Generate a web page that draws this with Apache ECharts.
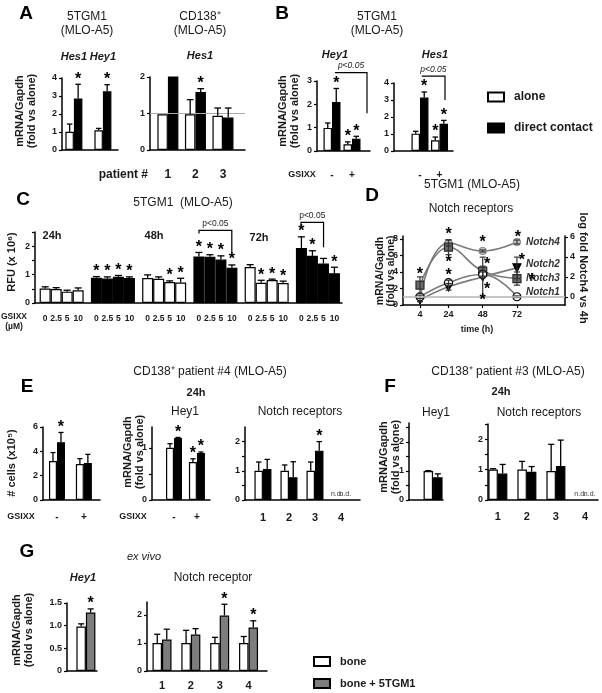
<!DOCTYPE html>
<html>
<head>
<meta charset="utf-8">
<script src="https://cdn.jsdelivr.net/npm/echarts@6.0.0/dist/echarts.min.js"></script>
<style>
html,body{margin:0;padding:0;background:#fff;}
#chart{width:602px;height:693px;}
</style>
</head>
<body>
<div id="chart"></div>
<script>
// ======================= DATA =======================
// A — 5TGM1 (MLO-A5)
const aGenes = ['Hes1', 'Hey1'];
const aAlone = [1.01, 1.10];
const aAloneSd = [0.43, 0.10];
const aContact = [2.86, 3.26];
const aContactSd = [0.79, 0.37];
const aContactSig = [1, 1];
// A — CD138+ (MLO-A5), Hes1
const a2Patients = ['1', '2', '3'];
const a2Alone = [0.98, 0.98, 0.94];
const a2AloneSd = [0, 0.40, 0.21];
const a2Contact = [2.05, 1.59, 0.89];
const a2ContactSd = [0, 0.09, 0.26];
const a2ContactSig = [0, 1, 0];
// B — 5TGM1 (MLO-A5) with GSIXX
const bGsixx = ['-', '+'];
const bHey1Alone = [0.99, 0.29];
const bHey1AloneSd = [0.21, 0.10];
const bHey1AloneSig = [0, 1];
const bHey1Contact = [2.10, 0.53];
const bHey1ContactSd = [0.58, 0.10];
const bHey1ContactSig = [1, 1];
const bHes1Alone = [1.02, 0.63];
const bHes1AloneSd = [0.14, 0.19];
const bHes1AloneSig = [0, 1];
const bHes1Contact = [3.14, 1.60];
const bHes1ContactSd = [0.33, 0.20];
const bHes1ContactSig = [1, 1];
// C — RFU (x10^6); columns = groups, one array per GSIXX dose
const cGroupCondition = ['alone', 'contact', 'alone', 'contact', 'alone', 'contact'];
const cTimes = ['24h', '48h', '72h'];
const cDoses = ['0', '2.5', '5', '10'];
const cDose0 = [0.51, 0.89, 0.88, 1.64, 1.27, 1.94];
const cDose25 = [0.49, 0.86, 0.85, 1.63, 0.71, 1.66];
const cDose5 = [0.40, 0.92, 0.74, 1.53, 0.81, 1.39];
const cDose10 = [0.45, 0.88, 0.72, 1.24, 0.70, 1.05];
const cSd0 = [0.06, 0.04, 0.11, 0.14, 0.08, 0.39];
const cSd25 = [0.05, 0.06, 0.07, 0.07, 0.09, 0.18];
const cSd5 = [0.05, 0.05, 0.04, 0.13, 0.03, 0.18];
const cSd10 = [0.08, 0.04, 0.15, 0.10, 0.07, 0.21];
const cSig0 = [0, 1, 0, 1, 0, 1];
const cSig25 = [0, 1, 0, 1, 1, 1];
const cSig5 = [0, 1, 1, 1, 1, 0];
const cSig10 = [0, 1, 1, 1, 1, 1];
// D — Notch receptors over time
const dTimes = [4, 24, 48, 72];
const dNotch1 = [1.0, 2.7, 3.7, 1.0];
const dNotch1Sd = [0.2, 0.3, 0.3, 0.1];
const dNotch2 = [0.6, 2.2, 3.4, 4.5];
const dNotch2Sd = [0.2, 0.4, 2.4, 1.3];
const dNotch3 = [2.4, 7.0, 4.1, 3.2];
const dNotch3Sd = [1.0, 0.9, 0.6, 0.8];
const dNotch4Log = [0, 5.4, 4.6, 5.5];
const dNotch4LogSd = [0, 0.3, 0.1, 0.2];
// E — CD138+ patient #4, 24h
const eGsixx = ['-', '+'];
const eCellsAlone = [3.2, 2.95];
const eCellsAloneSd = [0.7, 0.45];
const eCellsContact = [4.75, 3.05];
const eCellsContactSd = [0.8, 0.7];
const eCellsContactSig = [1, 0];
const eHey1Alone = [1.0, 0.73];
const eHey1AloneSd = [0.08, 0.06];
const eHey1AloneSig = [0, 1];
const eHey1Contact = [1.19, 0.90];
const eHey1ContactSd = [0.01, 0.02];
const eHey1ContactSig = [1, 1];
const notchIds = ['1', '2', '3', '4'];
const eNotchAlone = [1.0, 1.0, 1.0, null];
const eNotchAloneSd = [0.3, 0.2, 0.3, 0];
const eNotchContact = [1.06, 0.78, 1.69, null];
const eNotchContactSd = [0.33, 0.53, 0.31, 0];
const eNotchContactSig = [0, 0, 1, 0];
// F — CD138+ patient #3, 24h
const fHey1Alone = [1.0];
const fHey1AloneSd = [0.01];
const fHey1Contact = [0.78];
const fHey1ContactSd = [0.12];
const fNotchAlone = [1.0, 1.0, 0.95, null];
const fNotchAloneSd = [0.03, 0.27, 0.88, 0];
const fNotchContact = [0.87, 0.93, 1.12, null];
const fNotchContactSd = [0.3, 0.17, 0.85, 0];
// G — ex vivo
const gHey1Bone = [0.98];
const gHey1BoneSd = [0.06];
const gHey1Tumor = [1.29];
const gHey1TumorSd = [0.08];
const gHey1TumorSig = [1];
const gNotchBone = [1.0, 1.0, 1.0, 1.0];
const gNotchBoneSd = [0.31, 0.45, 0.2, 0.23];
const gNotchTumor = [1.12, 1.30, 1.98, 1.55];
const gNotchTumorSd = [0.37, 0.21, 0.40, 0.24];
const gNotchTumorSig = [0, 0, 1, 1];

// ======================= BUILD =======================
const F = '"Liberation Sans", Arial, Helvetica, sans-serif';
const fnt = (size, weight, style) => (style || 'normal') + ' ' + (weight || 'normal') + ' ' + size + 'px ' + F;
const grids = [], xAxis = [], yAxis = [], series = [], graphic = [];
const WHITE = '#ffffff', BLACK = '#000000', GREY = '#7d7d7d';

function txt(x, y, text, size, o) {
  o = o || {};
  const al = o.a || 'center';
  graphic.push({
    type: 'text', x: x, y: y, rotation: o.rot || 0, silent: true, z: 20,
    style: {
      text: text, font: fnt(size, o.w, o.s), fill: o.c || '#1a1a1a',
      align: al, verticalAlign: 'middle', textAlign: al, textVerticalAlign: 'middle',
      lineHeight: o.lh || Math.round(size * 1.15)
    }
  });
}

function addX(gi, o) {
  xAxis.push({
    gridIndex: gi, type: 'value', min: o.min, max: o.max, position: o.position || 'bottom',
    axisLine: { show: o.line !== false, onZero: false, lineStyle: { color: '#000', width: 1.5 } },
    axisTick: o.ticks ? { show: true, length: 3, customValues: o.ticks, lineStyle: { color: '#000', width: 1.2 } } : { show: false },
    axisLabel: o.labelValues ? {
      show: true, customValues: o.labelValues, margin: (o.labelMargin != null ? o.labelMargin : 8),
      formatter: o.labelText ? (v => o.labelText[Math.round(v)]) : (v => String(v)),
      fontFamily: F, fontSize: o.labelSize || 9, fontWeight: 'bold', fontStyle: o.labelStyle || 'normal', color: '#1a1a1a'
    } : { show: false },
    splitLine: { show: false }
  });
  return xAxis.length - 1;
}

function addY(gi, o) {
  yAxis.push({
    gridIndex: gi, type: 'value', min: o.min, max: o.max, position: o.position || 'left',
    axisLine: { show: true, onZero: false, lineStyle: { color: '#000', width: 1.5 } },
    axisTick: { show: true, length: 3, customValues: o.ticks, lineStyle: { color: '#000', width: 1.2 } },
    axisLabel: {
      show: true, customValues: o.labels, margin: 5,
      formatter: o.fmt || (v => String(v)),
      fontFamily: F, fontSize: 9, fontWeight: 'bold', color: '#1a1a1a'
    },
    splitLine: { show: false }
  });
  return yAxis.length - 1;
}

// error bar (+ optional significance star / n.d.) for one bar series
function errSeries(xi, yi, values, sd, sig, off, bw) {
  series.push({
    type: 'custom', xAxisIndex: xi, yAxisIndex: yi, silent: true, clip: false, z: 5,
    data: values.map((v, i) => [i, v == null ? 0 : v, sd ? sd[i] : 0, sig ? sig[i] : 0, v == null ? 1 : 0]),
    renderItem: function (params, api) {
      const x = api.value(0), v = api.value(1), s = api.value(2), st = api.value(3), nd = api.value(4);
      const p = api.coord([x, v]);
      const cx = p[0] + off;
      const ch = [];
      if (nd) {
        ch.push({ type: 'text', x: cx, y: p[1] - 2, style: { text: 'n.d.', font: fnt(7, 'normal'), fill: '#333', align: 'center', verticalAlign: 'bottom', textAlign: 'center', textVerticalAlign: 'bottom' } });
        return { type: 'group', children: ch };
      }
      const top = api.coord([x, v + s])[1];
      if (s > 0) {
        const cw = bw * 0.32;
        ch.push({ type: 'line', shape: { x1: cx, y1: p[1], x2: cx, y2: top }, style: { stroke: '#000', lineWidth: 1.3 } });
        ch.push({ type: 'line', shape: { x1: cx - cw, y1: top, x2: cx + cw, y2: top }, style: { stroke: '#000', lineWidth: 1.3 } });
      }
      if (st) {
        ch.push({ type: 'text', x: cx, y: top - 5, style: { text: '*', font: fnt(16, 'bold'), fill: '#000', align: 'center', verticalAlign: 'middle', textAlign: 'center', textVerticalAlign: 'middle' } });
      }
      return { type: 'group', children: ch };
    }
  });
}

// significance bracket: [x1, x2, yLevel, dropLeft, dropRight]
function bracketSeries(xi, yi, list, italic) {
  series.push({
    type: 'custom', xAxisIndex: xi, yAxisIndex: yi, silent: true, clip: false, z: 6,
    data: list,
    renderItem: function (params, api) {
      const x1 = api.value(0), x2 = api.value(1), y = api.value(2), d1 = api.value(3), d2 = api.value(4);
      const a = api.coord([x1, d1]), b = api.coord([x1, y]), c = api.coord([x2, y]), d = api.coord([x2, d2]);
      return {
        type: 'group', children: [
          { type: 'polyline', shape: { points: [a, b, c, d] }, style: { stroke: '#000', lineWidth: 1.2, fill: null } },
          { type: 'text', x: (b[0] + c[0]) / 2, y: b[1] - 2, style: { text: 'p<0.05', font: fnt(8.5, 'normal', italic ? 'italic' : 'normal'), fill: '#222', align: 'center', verticalAlign: 'bottom', textAlign: 'center', textVerticalAlign: 'bottom' } }
        ]
      };
    }
  });
}

function barPanel(p) {
  const gi = grids.length;
  grids.push({ left: p.left, top: p.top, width: p.width, height: p.height });
  const ncat = p.bars[0].values.length;
  const idx = Array.from({ length: ncat }, (_, i) => i);
  const xi = addX(gi, { min: p.xMin, max: p.xMax, labelValues: p.cats ? idx : null, labelText: p.cats, labelMargin: p.catMargin, labelSize: p.catSize || 11 });
  if (p.topCats) addX(gi, { min: p.xMin, max: p.xMax, position: 'top', line: false, labelValues: idx, labelText: p.topCats, labelMargin: p.topMargin, labelSize: 11, labelStyle: 'italic' });
  const yi = addY(gi, { min: 0, max: p.yMax, ticks: p.yTicks, labels: p.yLabels, fmt: p.yFmt });
  const n = p.bars.length;
  p.bars.forEach((b, k) => {
    const off = (k - (n - 1) / 2) * p.barWidth;
    const s = {
      type: 'bar', name: b.name, xAxisIndex: xi, yAxisIndex: yi, barWidth: p.barWidth, barGap: '0%', z: 2,
      itemStyle: { color: b.color, borderColor: '#000', borderWidth: 1.2 },
      data: b.values.map((v, i) => v == null ? null : (b.colors ? { value: [i, v], itemStyle: { color: b.colors[i] } } : [i, v])).filter(d => d)
    };
    if (b.label) s.label = { show: true, position: 'bottom', distance: b.labelDist, formatter: b.label, fontFamily: F, fontSize: 8.5, fontWeight: 'bold', color: '#1a1a1a' };
    if (k === 0 && p.hline != null) s.markLine = { silent: true, symbol: 'none', label: { show: false }, lineStyle: { color: '#aaaaaa', width: 1, type: 'solid' }, data: [{ yAxis: p.hline }] };
    series.push(s);
    errSeries(xi, yi, b.values, b.sd, b.sig, off, p.barWidth);
  });
  if (p.brackets) bracketSeries(xi, yi, p.brackets, p.bracketItalic);
  return { gi, xi, yi };
}

// ---------- Panel A ----------
barPanel({
  left: 62, top: 78, width: 56, height: 72, xMin: -0.41, xMax: 1.52, yMax: 4,
  yTicks: [0, 1, 2, 3, 4], yLabels: [0, 1, 2, 3, 4], barWidth: 8.5,
  topCats: aGenes, topMargin: 16,
  bars: [
    { name: 'alone', color: WHITE, values: aAlone, sd: aAloneSd },
    { name: 'direct contact', color: BLACK, values: aContact, sd: aContactSd, sig: aContactSig }
  ]
});
barPanel({
  left: 150, top: 77, width: 95, height: 73, xMin: -0.65, xMax: 2.8, yMax: 2,
  yTicks: [0, 1, 2], yLabels: [0, 1, 2], barWidth: 10.5, hline: 1,
  cats: a2Patients, catMargin: 19, catSize: 12,
  bars: [
    { name: 'alone', color: WHITE, values: a2Alone, sd: a2AloneSd },
    { name: 'direct contact', color: BLACK, values: a2Contact, sd: a2ContactSd, sig: a2ContactSig }
  ]
});
// ---------- Panel B ----------
barPanel({
  left: 317, top: 81, width: 53, height: 70, xMin: -0.75, xMax: 1.9, yMax: 3,
  yTicks: [0, 1, 2, 3], yLabels: [0, 1, 2, 3], barWidth: 8.5,
  cats: bGsixx, catMargin: 19, catSize: 10,
  brackets: [[0.15, 1.75, 3.36, 3.36, 1.62]], bracketItalic: true,
  bars: [
    { name: 'alone', color: WHITE, values: bHey1Alone, sd: bHey1AloneSd, sig: bHey1AloneSig },
    { name: 'direct contact', color: BLACK, values: bHey1Contact, sd: bHey1ContactSd, sig: bHey1ContactSig }
  ]
});
barPanel({
  left: 394, top: 83, width: 59, height: 68, xMin: -1.33, xMax: 1.69, yMax: 4,
  yTicks: [0, 1, 2, 3, 4], yLabels: [0, 1, 2, 3, 4], barWidth: 8.5,
  cats: bGsixx, catMargin: 19, catSize: 10,
  brackets: [[0.09, 1.28, 4.41, 4.41, 3.0]], bracketItalic: true,
  bars: [
    { name: 'alone', color: WHITE, values: bHes1Alone, sd: bHes1AloneSd, sig: bHes1AloneSig },
    { name: 'direct contact', color: BLACK, values: bHes1Contact, sd: bHes1ContactSd, sig: bHes1ContactSig }
  ]
});
// ---------- Panel C ----------
const cColors = cGroupCondition.map(c => c === 'alone' ? WHITE : BLACK);
barPanel({
  left: 35, top: 232, width: 307, height: 71, xMin: -0.52, xMax: 5.47, yMax: 2.5,
  yTicks: [0, 0.5, 1, 1.5, 2, 2.5], yLabels: [0, 1, 2], barWidth: 11,
  brackets: [[2.68, 3.32, 2.56, 2.45, 1.75], [4.67, 5.11, 2.84, 2.72, 1.96]], bracketItalic: false,
  bars: [
    { name: 'GSIXX ' + cDoses[0], color: WHITE, colors: cColors, values: cDose0, sd: cSd0, sig: cSig0, label: cDoses[0], labelDist: 11 },
    { name: 'GSIXX ' + cDoses[1], color: WHITE, colors: cColors, values: cDose25, sd: cSd25, sig: cSig25, label: cDoses[1], labelDist: 11 },
    { name: 'GSIXX ' + cDoses[2], color: WHITE, colors: cColors, values: cDose5, sd: cSd5, sig: cSig5, label: cDoses[2], labelDist: 11 },
    { name: 'GSIXX ' + cDoses[3], color: WHITE, colors: cColors, values: cDose10, sd: cSd10, sig: cSig10, label: cDoses[3], labelDist: 11 }
  ]
});
// ---------- Panel D ----------
(function () {
  const gi = grids.length;
  grids.push({ left: 403, top: 236, width: 162, height: 69 });
  const xi = addX(gi, { min: -7.9, max: 105.7, labelValues: dTimes, ticks: dTimes, labelMargin: 5, labelSize: 9 });
  const yl = addY(gi, { min: 0, max: 8.36, ticks: [0, 2, 4, 6, 8], labels: [0, 2, 4, 6, 8] });
  const yr = addY(gi, { min: -0.8, max: 6.1, ticks: [0, 2, 4, 6], labels: [0, 2, 4, 6], position: 'right' });
  const spec = [
    { name: 'Notch4', vals: dNotch4Log, sd: dNotch4LogSd, y: yr, symbol: 'circle', size: 7, fill: '#c9c9c9', border: '#8a8a8a', lab: [0, 0] },
    { name: 'Notch3', vals: dNotch3, sd: dNotch3Sd, y: yl, symbol: 'rect', size: 8, fill: '#6a6a6a', border: '#2a2a2a', lab: [0, 0] },
    { name: 'Notch2', vals: dNotch2, sd: dNotch2Sd, y: yl, symbol: 'triangle', rot: 180, size: 8, fill: '#000', border: '#000', lab: [0, -4] },
    { name: 'Notch1', vals: dNotch1, sd: dNotch1Sd, y: yl, symbol: 'circle', size: 8, fill: '#fff', border: '#000', lab: [0, -4] }
  ];
  spec.forEach(s => {
    const line = {
      type: 'line', name: s.name, xAxisIndex: xi, yAxisIndex: s.y, smooth: 0.45, z: 3,
      data: dTimes.map((t, i) => [t, s.vals[i]]),
      symbol: s.symbol, symbolSize: s.size, symbolRotate: s.rot || 0, showSymbol: true,
      itemStyle: { color: s.fill, borderColor: s.border, borderWidth: 1.2 },
      lineStyle: { color: '#7a7a7a', width: 1.6 },
      endLabel: { show: true, formatter: s.name, distance: 9, offset: s.lab, fontFamily: F, fontSize: 10, fontWeight: 'bold', fontStyle: 'italic', color: '#333' }
    };
    if (s.name === 'Notch4') line.markLine = { silent: true, symbol: 'none', label: { show: false }, lineStyle: { color: '#b5b5b5', width: 1.5, type: 'solid' }, data: [{ yAxis: 0 }] };
    series.push(line);
    series.push({
      type: 'custom', xAxisIndex: xi, yAxisIndex: s.y, silent: true, clip: false, z: 4,
      data: dTimes.map((t, i) => [t, s.vals[i], s.sd[i]]),
      renderItem: function (params, api) {
        const t = api.value(0), v = api.value(1), e = api.value(2);
        if (!(e > 0)) return { type: 'group', children: [] };
        const lo = api.coord([t, v - e]), hi = api.coord([t, v + e]);
        return {
          type: 'group', children: [
            { type: 'line', shape: { x1: lo[0], y1: lo[1], x2: hi[0], y2: hi[1] }, style: { stroke: '#333', lineWidth: 1.2 } },
            { type: 'line', shape: { x1: hi[0] - 3, y1: hi[1], x2: hi[0] + 3, y2: hi[1] }, style: { stroke: '#333', lineWidth: 1.2 } },
            { type: 'line', shape: { x1: lo[0] - 3, y1: lo[1], x2: lo[0] + 3, y2: lo[1] }, style: { stroke: '#333', lineWidth: 1.2 } }
          ]
        };
      }
    });
  });
  // significance stars (time, left-axis value)
  const dStarMarks = [[4, 4.0], [24, 8.85], [24, 5.45], [24, 3.9], [48, 7.9], [51, 5.2], [51, 2.2], [48, 0.85], [72.7, 8.5], [75.5, 5.7], [82.5, 3.3]];
  series.push({
    type: 'custom', xAxisIndex: xi, yAxisIndex: yl, silent: true, clip: false, z: 6,
    data: dStarMarks,
    renderItem: function (params, api) {
      const p = api.coord([api.value(0), api.value(1)]);
      return { type: 'text', x: p[0], y: p[1] + 3, style: { text: '*', font: fnt(16, 'bold'), fill: '#000', align: 'center', verticalAlign: 'middle', textAlign: 'center', textVerticalAlign: 'middle' } };
    }
  });
})();
// ---------- Panel E ----------
barPanel({
  left: 43, top: 427, width: 57, height: 73, xMin: -0.52, xMax: 1.6, yMax: 6,
  yTicks: [0, 2, 4, 6], yLabels: [0, 2, 4, 6], barWidth: 8,
  cats: eGsixx, catMargin: 12, catSize: 10,
  bars: [
    { name: 'alone', color: WHITE, values: eCellsAlone, sd: eCellsAloneSd },
    { name: 'direct contact', color: BLACK, values: eCellsContact, sd: eCellsContactSd, sig: eCellsContactSig }
  ]
});
barPanel({
  left: 152, top: 427, width: 58, height: 73, xMin: -0.96, xMax: 1.57, yMax: 1.4,
  yTicks: [0, 0.5, 1], yLabels: [0, 1], barWidth: 8,
  cats: eGsixx, catMargin: 12, catSize: 10,
  bars: [
    { name: 'alone', color: WHITE, values: eHey1Alone, sd: eHey1AloneSd, sig: eHey1AloneSig },
    { name: 'direct contact', color: BLACK, values: eHey1Contact, sd: eHey1ContactSd, sig: eHey1ContactSig }
  ]
});
barPanel({
  left: 245, top: 427, width: 115, height: 73, xMin: -0.69, xMax: 3.73, yMax: 2.5,
  yTicks: [0, 0.5, 1, 1.5, 2], yLabels: [0, 1, 2], barWidth: 8.5,
  cats: notchIds, catMargin: 12, catSize: 11,
  bars: [
    { name: 'alone', color: WHITE, values: eNotchAlone, sd: eNotchAloneSd },
    { name: 'direct contact', color: BLACK, values: eNotchContact, sd: eNotchContactSd, sig: eNotchContactSig }
  ]
});
// ---------- Panel F ----------
barPanel({
  left: 409, top: 423, width: 34, height: 77, xMin: -0.8, xMax: 0.33, yMax: 2.65,
  yTicks: [0, 0.5, 1, 1.5, 2, 2.5], yLabels: [0, 1, 2], barWidth: 9.5,
  bars: [
    { name: 'alone', color: WHITE, values: fHey1Alone, sd: fHey1AloneSd },
    { name: 'direct contact', color: BLACK, values: fHey1Contact, sd: fHey1ContactSd }
  ]
});
barPanel({
  left: 488, top: 424, width: 110, height: 76, xMin: -0.34, xMax: 3.45, yMax: 2.5,
  yTicks: [0, 0.5, 1, 1.5, 2, 2.5], yLabels: [0, 1, 2], barWidth: 9.5,
  cats: notchIds, catMargin: 11, catSize: 11,
  bars: [
    { name: 'alone', color: WHITE, values: fNotchAlone, sd: fNotchAloneSd },
    { name: 'direct contact', color: BLACK, values: fNotchContact, sd: fNotchContactSd }
  ]
});
// ---------- Panel G ----------
barPanel({
  left: 67, top: 603, width: 30, height: 68, xMin: -0.63, xMax: 0.37, yMax: 1.5,
  yTicks: [0, 0.5, 1, 1.5], yLabels: [0, 0.5, 1, 1.5], yFmt: v => v === 0 ? '0' : v.toFixed(1), barWidth: 9.5,
  bars: [
    { name: 'bone', color: WHITE, values: gHey1Bone, sd: gHey1BoneSd },
    { name: 'bone + 5TGM1', color: GREY, values: gHey1Tumor, sd: gHey1TumorSd, sig: gHey1TumorSig }
  ]
});
barPanel({
  left: 147, top: 602, width: 120, height: 69, xMin: -0.52, xMax: 3.64, yMax: 2.46,
  yTicks: [0, 1, 2], yLabels: [0, 1, 2], barWidth: 9.5,
  cats: notchIds, catMargin: 9, catSize: 11,
  bars: [
    { name: 'bone', color: WHITE, values: gNotchBone, sd: gNotchBoneSd },
    { name: 'bone + 5TGM1', color: GREY, values: gNotchTumor, sd: gNotchTumorSd, sig: gNotchTumorSig }
  ]
});

// ---------- Texts ----------
const YL = 'mRNA/Gapdh\n(fold vs alone)';
const R90 = Math.PI / 2;
// panel letters
[['A', 26, 14], ['B', 282, 14], ['C', 23, 200], ['D', 372, 196], ['E', 27, 387], ['F', 390, 387], ['G', 27, 552]]
  .forEach(l => txt(l[1], l[2], l[0], 19, { w: 'bold', c: '#000' }));
// A
txt(87, 17, '5TGM1', 12); txt(87, 31, '(MLO-A5)', 12);
txt(200, 17, 'CD138⁺', 12); txt(200, 31, '(MLO-A5)', 12);
txt(200, 56, 'Hes1', 11, { w: 'bold', s: 'italic' });
txt(26, 111, YL, 11, { w: 'bold', rot: R90, lh: 12 });
txt(148, 175, 'patient #', 12, { w: 'bold', a: 'right' });
// B
txt(377, 17, '5TGM1', 12); txt(377, 31, '(MLO-A5)', 12);
txt(335, 55, 'Hey1', 11, { w: 'bold', s: 'italic' });
txt(435, 55, 'Hes1', 11, { w: 'bold', s: 'italic' });
txt(289, 111, YL, 11, { w: 'bold', rot: R90, lh: 12 });
txt(302, 175, 'GSIXX', 9, { w: 'bold' });
// C
txt(183, 203, '5TGM1  (MLO-A5)', 12);
txt(52, 236, cTimes[0], 11, { w: 'bold' });
txt(154, 236, cTimes[1], 11, { w: 'bold' });
txt(259, 238, cTimes[2], 11, { w: 'bold' });
txt(12, 262, 'RFU (x 10⁶)', 11, { w: 'bold', rot: R90 });
txt(14, 317, 'GSIXX', 8.5, { w: 'bold' });
txt(14, 327, '(µM)', 8.5, { w: 'bold' });
// D
txt(472, 185, '5TGM1 (MLO-A5)', 12);
txt(471, 209, 'Notch receptors', 12);
txt(386, 271, YL, 10.5, { w: 'bold', rot: R90, lh: 11 });
txt(583, 268, 'log fold Notch4 vs 4h', 11, { w: 'bold', rot: -R90 });
txt(477, 330, 'time (h)', 9, { w: 'bold' });
// E
txt(210, 372, 'CD138⁺ patient #4 (MLO-A5)', 12);
txt(196, 393, '24h', 11, { w: 'bold' });
txt(185, 412, 'Hey1', 12);
txt(300, 412, 'Notch receptors', 12);
txt(12, 463, '# cells (x10⁵)', 11, { w: 'bold', rot: R90 });
txt(134, 452, YL, 11, { w: 'bold', rot: R90, lh: 12 });
txt(21, 517, 'GSIXX', 9, { w: 'bold' });
txt(133, 517, 'GSIXX', 9, { w: 'bold' });
// F
txt(508, 372, 'CD138⁺ patient #3 (MLO-A5)', 12);
txt(501, 392, '24h', 11, { w: 'bold' });
txt(436, 413, 'Hey1', 12);
txt(539, 413, 'Notch receptors', 12);
txt(390, 457, YL, 11, { w: 'bold', rot: R90, lh: 12 });
// G
txt(144, 557, 'ex vivo', 11, { s: 'italic' });
txt(83, 578, 'Hey1', 11, { w: 'bold', s: 'italic' });
txt(213, 578, 'Notch receptor', 12);
txt(23, 630, YL, 11, { w: 'bold', rot: R90, lh: 12 });

const chart = echarts.init(document.getElementById('chart'), null, { renderer: 'canvas', width: 602, height: 693 });
chart.setOption({
  animation: false,
  backgroundColor: '#ffffff',
  grid: grids, xAxis: xAxis, yAxis: yAxis, series: series, graphic: graphic,
  legend: [
    { data: ['alone', 'direct contact'], left: 487, top: 90, orient: 'vertical', icon: 'rect', itemWidth: 16, itemHeight: 9, itemGap: 17, padding: 0, selectedMode: false,
      textStyle: { fontFamily: F, fontSize: 12, fontWeight: 'bold', color: '#1a1a1a', padding: [0, 0, 0, 5], lineHeight: 14 } },
    { data: ['bone', 'bone + 5TGM1'], left: 313, top: 655, orient: 'vertical', icon: 'rect', itemWidth: 16, itemHeight: 9, itemGap: 9, padding: 0, selectedMode: false,
      textStyle: { fontFamily: F, fontSize: 11, fontWeight: 'bold', color: '#1a1a1a', padding: [0, 0, 0, 5], lineHeight: 13 } }
  ]
});
</script>
</body>
</html>
